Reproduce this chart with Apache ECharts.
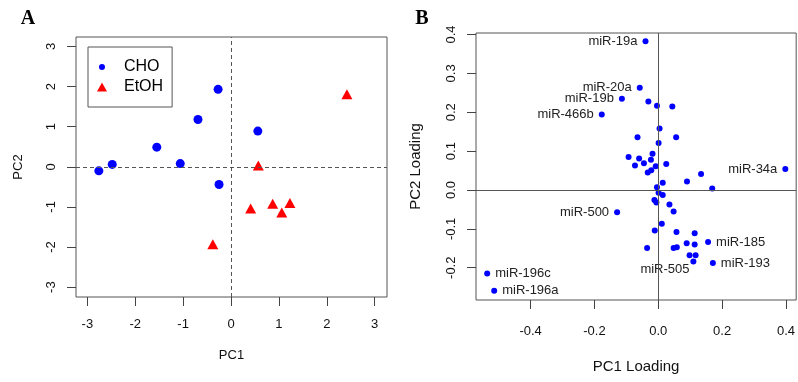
<!DOCTYPE html>
<html>
<head>
<meta charset="utf-8">
<script src="https://cdn.jsdelivr.net/npm/echarts@6/dist/echarts.min.js"></script>
<style>html,body{margin:0;padding:0;background:#fff}#c{width:798px;height:382px}</style>
</head>
<body>
<div id="c"></div>
<script>
// Panel A: PCA scores
const choPC1 = [-2.76, -2.48, -1.55, -1.06, -0.69, -0.27, 0.56, -0.25];
const choPC2 = [-0.10, 0.06, 0.49, 0.08, 1.18, 1.93, 0.89, -0.44];
const etohPC1 = [2.42, 0.57, 0.41, 0.87, 1.06, 1.23, -0.38];
const etohPC2 = [1.81, 0.03, -1.04, -0.92, -1.14, -0.90, -1.93];
const scoreTicks = [-3, -2, -1, 0, 1, 2, 3];

// Panel B: loadings
const loadPC1 = [-0.040, -0.058, -0.114, -0.177, -0.031, -0.004, 0.044, 0.004, -0.065, 0.056,
  0.001, -0.093, -0.060, -0.018, -0.023, -0.073, -0.045, -0.008, 0.025, -0.033,
  -0.022, 0.134, 0.090, 0.014, -0.004, 0.169, 0.398, 0.001, 0.014, -0.012,
  -0.006, 0.035, 0.048, -0.129, 0.011, -0.011, 0.057, 0.114, 0.156, 0.089,
  0.114, -0.035, 0.048, 0.058, 0.098, 0.117, 0.110, 0.171, -0.536, -0.514];
const loadPC2 = [0.383, 0.263, 0.235, 0.194, 0.228, 0.217, 0.215, 0.158, 0.136, 0.136,
  0.121, 0.085, 0.081, 0.093, 0.078, 0.063, 0.069, 0.061, 0.067, 0.045,
  0.051, 0.041, 0.022, 0.019, 0.007, 0.004, 0.054, -0.007, -0.013, -0.026,
  -0.032, -0.037, -0.055, -0.057, -0.087, -0.104, -0.108, -0.111, -0.134, -0.137,
  -0.140, -0.149, -0.149, -0.147, -0.168, -0.168, -0.184, -0.188, -0.215, -0.259];
const loadNames = ['miR-19a', 'miR-20a', 'miR-19b', 'miR-466b', '', '', '', '', '', '',
  '', '', '', '', '', '', '', '', '', '',
  '', '', '', '', '', '', 'miR-34a', '', '', '',
  '', '', '', 'miR-500', '', '', '', '', 'miR-185', '',
  '', '', '', '', '', '', 'miR-505', 'miR-193', 'miR-196c', 'miR-196a'];
const loadXTicks = [-0.4, -0.2, 0.0, 0.2, 0.4];
const loadYTicks = [-0.2, -0.1, 0.0, 0.1, 0.2, 0.3, 0.4];

const FONT = '"Liberation Sans", Arial, sans-serif';
const rightLabels = {'miR-185': 1, 'miR-193': 1, 'miR-196c': 1, 'miR-196a': 1};

const loadData = loadPC1.map((x, i) => {
  const nm = loadNames[i];
  const item = {value: [x, loadPC2[i]], name: nm};
  if (nm) {
    let lab = {show: true, formatter: nm, position: rightLabels[nm] ? 'right' : 'left', distance: 5};
    if (nm === 'miR-505') { lab.position = [-50, 4]; lab.align = 'left'; lab.verticalAlign = 'top'; }
    item.label = lab;
  } else {
    item.label = {show: false};
  }
  return item;
});

function valAxis(grid, min, max, ticks, fmt, isY, margin, name, nameGap, nameSize) {
  return {
    type: 'value', gridIndex: grid, min: min, max: max,
    axisLine: {show: false, onZero: false},
    splitLine: {show: false},
    axisTick: {show: true, inside: false, length: 9, customValues: ticks, lineStyle: {color: '#444', width: 1}},
    axisLabel: {customValues: ticks, formatter: fmt, margin: margin, rotate: isY ? 90 : 0,
      fontSize: 13, color: '#111', fontFamily: FONT},
    name: name, nameLocation: 'middle', nameGap: nameGap,
    nameTextStyle: {fontSize: nameSize, color: '#111', fontFamily: FONT}
  };
}

// legend icons: padded paths so the text sits further right of the symbol
const legendCircle = 'path://M0,0M22,10M5,2A3,3,0,1,1,4.999,2Z';
const legendTriangle = 'path://M0,0M22,10M5,0.5L10,9.5L0,9.5Z';

const chart = echarts.init(document.getElementById('c'), null, {renderer: 'canvas'});
chart.setOption({
  animation: false,
  backgroundColor: '#fff',
  grid: [
    {left: 76, top: 37, width: 311, height: 260, show: true, borderColor: '#555', borderWidth: 1, backgroundColor: 'transparent'},
    {left: 476, top: 33, width: 321, height: 267, show: true, borderColor: '#555', borderWidth: 1, backgroundColor: 'transparent'}
  ],
  xAxis: [
    valAxis(0, -3.237, 3.257, scoreTicks, v => String(v), false, 21, 'PC1', 52, 13),
    valAxis(1, -0.571, 0.432, loadXTicks, v => v.toFixed(1), false, 25, 'PC1 Loading', 59, 15)
  ],
  yAxis: [
    valAxis(0, -3.245, 3.235, scoreTicks, v => String(v), true, 18, 'PC2', 51, 13),
    valAxis(1, -0.283, 0.404, loadYTicks, v => v.toFixed(1), true, 18, 'PC2 Loading', 53, 15)
  ],
  legend: {
    left: 88, top: 47, orient: 'vertical',
    padding: [12, 9, 12, 9], itemGap: 4, itemWidth: 22, itemHeight: 10,
    borderColor: '#555', borderWidth: 1, borderRadius: 0,
    textStyle: {fontSize: 16, color: '#000', fontFamily: FONT, lineHeight: 16},
    data: [{name: 'CHO', icon: legendCircle}, {name: 'EtOH', icon: legendTriangle}]
  },
  graphic: [
    {type: 'text', x: 28, y: 19, style: {text: 'A', font: 'bold 20px "Liberation Serif", "Times New Roman", serif', fill: '#000', textAlign: 'center', textVerticalAlign: 'middle'}},
    {type: 'text', x: 422, y: 19, style: {text: 'B', font: 'bold 20px "Liberation Serif", "Times New Roman", serif', fill: '#000', textAlign: 'center', textVerticalAlign: 'middle'}}
  ],
  series: [
    {
      name: 'CHO', type: 'scatter', xAxisIndex: 0, yAxisIndex: 0,
      symbol: 'circle', symbolSize: 9, itemStyle: {color: '#0000ff', opacity: 1},
      data: choPC1.map((x, i) => [x, choPC2[i]]),
      markLine: {
        silent: true, symbol: 'none', label: {show: false},
        lineStyle: {color: '#555', type: [4, 3], width: 1},
        data: [{xAxis: 0}, {yAxis: 0}]
      }
    },
    {
      name: 'EtOH', type: 'scatter', xAxisIndex: 0, yAxisIndex: 0,
      symbol: 'triangle', symbolSize: [11, 10], itemStyle: {color: '#ff0000', opacity: 1},
      data: etohPC1.map((x, i) => [x, etohPC2[i]])
    },
    {
      name: 'loadings', type: 'scatter', xAxisIndex: 1, yAxisIndex: 1,
      symbol: 'circle', symbolSize: 6, itemStyle: {color: '#0000ff', opacity: 1},
      label: {fontSize: 13, color: '#222', fontFamily: FONT},
      labelLayout: {hideOverlap: false},
      data: loadData,
      markLine: {
        silent: true, symbol: 'none', label: {show: false},
        lineStyle: {color: '#555', type: 'solid', width: 1},
        data: [{xAxis: 0}, {yAxis: 0}]
      }
    }
  ]
});
</script>
</body>
</html>
